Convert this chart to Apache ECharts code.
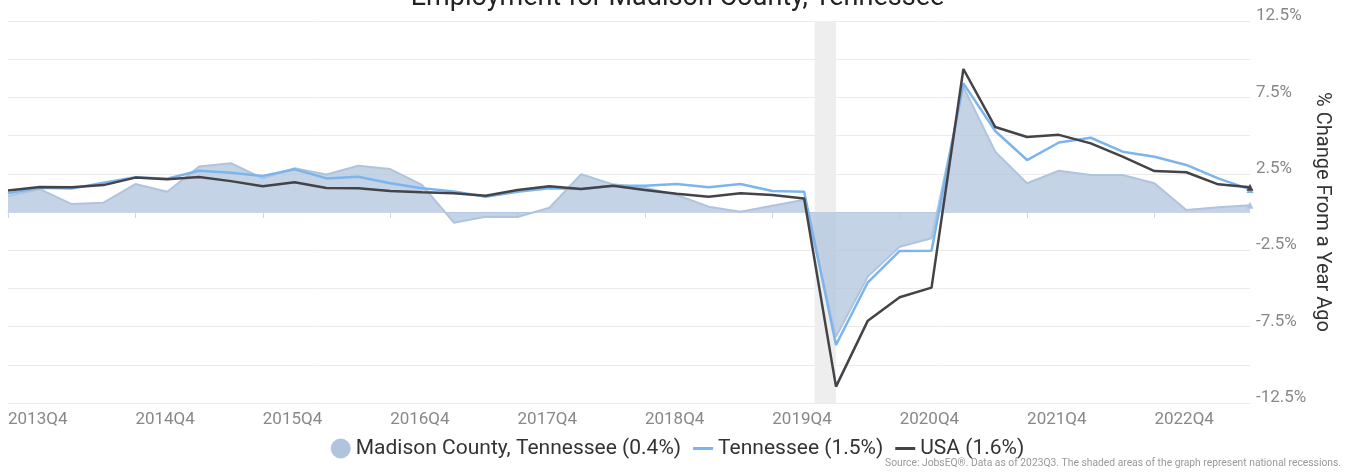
<!DOCTYPE html>
<html>
<head>
<meta charset="utf-8">
<script src="https://cdn.jsdelivr.net/npm/echarts@6/dist/echarts.min.js"></script>
<style>
  html, body { margin: 0; padding: 0; background: #fff; }
  #chart { width: 1355px; height: 475px; }
</style>
</head>
<body>
<div id="chart"></div>
<script>
const quarters = [
  '2013Q4', '2014Q1', '2014Q2', '2014Q3', '2014Q4', '2015Q1', '2015Q2', '2015Q3',
  '2015Q4', '2016Q1', '2016Q2', '2016Q3', '2016Q4', '2017Q1', '2017Q2', '2017Q3',
  '2017Q4', '2018Q1', '2018Q2', '2018Q3', '2018Q4', '2019Q1', '2019Q2', '2019Q3',
  '2019Q4', '2020Q1', '2020Q2', '2020Q3', '2020Q4', '2021Q1', '2021Q2', '2021Q3',
  '2021Q4', '2022Q1', '2022Q2', '2022Q3', '2022Q4', '2023Q1', '2023Q2', '2023Q3'
];

const madison = [
  1.05, 1.5, 0.52, 0.61, 1.83, 1.33, 2.97, 3.19, 2.2, 2.86,
  2.46, 3.03, 2.81, 1.77, -0.7, -0.31, -0.33, 0.28, 2.47, 1.81,
  1.59, 1.11, 0.35, 0.02, 0.41, 0.8, -8.16, -4.23, -2.27, -1.72,
  8.2, 3.95, 1.88, 2.7, 2.42, 2.42, 1.88, 0.13, 0.31, 0.44
];

const tennessee = [
  1.22, 1.59, 1.53, 1.92, 2.27, 2.18, 2.7, 2.57, 2.36, 2.8,
  2.2, 2.31, 1.88, 1.55, 1.35, 1.0, 1.33, 1.55, 1.5, 1.72,
  1.72, 1.83, 1.62, 1.83, 1.37, 1.33, -8.7, -4.6, -2.55, -2.53,
  8.42, 5.3, 3.4, 4.55, 4.86, 3.95, 3.62, 3.08, 2.2, 1.48
];

const usa = [
  1.41, 1.64, 1.62, 1.76, 2.25, 2.15, 2.29, 2.02, 1.69, 1.95,
  1.57, 1.55, 1.37, 1.29, 1.22, 1.07, 1.44, 1.68, 1.5, 1.72,
  1.44, 1.2, 1.0, 1.22, 1.11, 0.88, -11.43, -7.11, -5.58, -4.95,
  9.36, 5.56, 4.91, 5.05, 4.49, 3.62, 2.68, 2.6, 1.81, 1.62
];

// recession band, in quarter index units (Feb 2020 - Apr 2020)
const recession = [25.33, 26];

const names = ['Madison County, Tennessee (0.4%)', 'Tennessee (1.5%)', 'USA (1.6%)'];

const font = 'Roboto, "Noto Sans", sans-serif';
const lineIcon = 'path://M0,0H20V3H0Z';

// marker only on the last point
const lastMark = (arr) => arr.map((v, i) =>
  i === arr.length - 1 ? { value: v, symbol: 'triangle', symbolSize: 7 } : v);

const chart = echarts.init(document.getElementById('chart'));

chart.setOption({
  animation: false,
  textStyle: { fontFamily: font },
  title: [{
    text: 'Employment for Madison County, Tennessee',
    left: 'center',
    top: -20,
    textStyle: { fontFamily: font, fontSize: 27, fontWeight: 'normal', color: '#222' }
  }, {
    text: 'Source: JobsEQ®. Data as of 2023Q3. The shaded areas of the graph represent national recessions.',
    right: 9,
    bottom: 2,
    textStyle: { fontFamily: font, fontSize: 10.3, fontWeight: 'normal', color: '#999' }
  }],
  legend: {
    left: 'center',
    top: 433,
    itemWidth: 20,
    itemHeight: 20,
    itemGap: 12,
    textStyle: { fontFamily: font, fontSize: 21, color: '#333' },
    data: [
      { name: names[0], icon: 'circle' },
      { name: names[1], icon: lineIcon },
      { name: names[2], icon: lineIcon }
    ]
  },
  grid: { left: 8, right: 105, top: 21, bottom: 72, containLabel: false },
  xAxis: [{
    type: 'category',
    data: quarters,
    boundaryGap: false,
    axisLine: { lineStyle: { color: '#ccd6eb' } },
    axisTick: { interval: 3, length: 6, lineStyle: { color: '#ccd6eb' } },
    axisLabel: {
      interval: 3,
      align: 'left',
      margin: 8,
      fontSize: 17,
      color: '#888',
      fontFamily: font
    },
    splitLine: { show: false }
  }, {
    type: 'value',
    min: 0,
    max: quarters.length - 1,
    show: false
  }],
  yAxis: {
    type: 'value',
    position: 'right',
    min: -12.5,
    max: 12.5,
    interval: 2.5,
    name: '% Change From a Year Ago',
    nameLocation: 'middle',
    nameRotate: -90,
    nameGap: 62,
    nameMoveOverlap: false,
    nameTextStyle: { fontFamily: font, fontSize: 20, color: '#333' },
    axisLine: { show: false },
    axisTick: { show: false },
    axisLabel: {
      margin: 6,
      fontSize: 17,
      color: '#888',
      fontFamily: font,
      verticalAlign: 'bottom',
      lineHeight: 10,
      formatter: (v) => (Math.round(Math.abs(v) / 2.5) % 2 === 1 ? v.toFixed(1) + '%' : '')
    },
    splitLine: { lineStyle: { color: '#ebebeb' } }
  },
  series: [{
    type: 'line',
    xAxisIndex: 1,
    data: [],
    silent: true,
    markArea: {
      silent: true,
      itemStyle: { color: '#eeeeee' },
      data: [[{ xAxis: recession[0] }, { xAxis: recession[1] }]]
    }
  }, {
    name: names[0],
    type: 'line',
    data: lastMark(madison),
    symbol: 'none',
    showSymbol: true,
    color: '#b0c4de',
    lineStyle: { width: 2, color: '#b0c4de' },
    areaStyle: { color: '#b0c4de', opacity: 0.75 }
  }, {
    name: names[1],
    type: 'line',
    data: lastMark(tennessee),
    symbol: 'none',
    showSymbol: true,
    color: '#7cb5ec',
    lineStyle: { width: 2.5, color: '#7cb5ec' }
  }, {
    name: names[2],
    type: 'line',
    data: lastMark(usa),
    symbol: 'none',
    showSymbol: true,
    color: '#434348',
    lineStyle: { width: 2.5, color: '#434348' }
  }]
});
</script>
</body>
</html>
